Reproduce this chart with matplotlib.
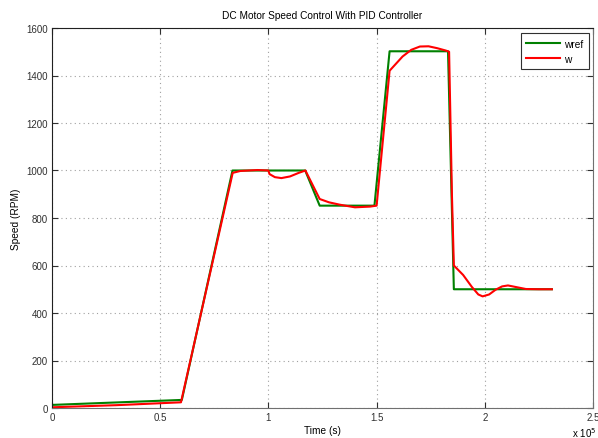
import matplotlib
matplotlib.use("Agg")
import matplotlib.pyplot as plt
from matplotlib.ticker import FuncFormatter, MultipleLocator

# time in seconds
t_ref = [0, 60000, 83400, 117000, 123700, 149000, 156000, 183000, 185700, 231000]
w_ref = [13, 34, 1000, 1000, 852, 852, 1502, 1502, 500, 500]

t_w = [0, 30000, 59600, 83500, 87000, 95000, 100000, 100500, 103000, 106000, 110000,
       114000, 117100, 123700, 128000, 133000, 140000, 147000, 150000, 156000, 158000,
       162000, 166000, 170000, 174000, 178000, 182000, 183500, 184800, 185700, 190000,
       194000, 197000, 199000, 202000, 205000, 208000, 210700, 214000, 219000, 225000,
       231000]
w_w = [3, 12, 24, 990, 998, 1002, 1000, 985, 972, 968, 975,
       990, 1000, 880, 866, 856, 845, 848, 852, 1420, 1440,
       1480, 1508, 1522, 1523, 1515, 1505, 1500, 900, 600, 560,
       510, 478, 470, 478, 498, 512, 516, 510, 501, 500,
       500]

plt.rcParams['font.family'] = ['Liberation Sans', 'DejaVu Sans']
plt.rcParams['font.size'] = 7

fig = plt.figure(figsize=(5.98, 4.39), dpi=100)
fig.patch.set_facecolor('white')
ax = fig.add_axes([52/598, 30/439, (593-52)/598, (409-29)/439])

ax.plot(t_ref, w_ref, color='#008000', lw=1.5, label='wref')
ax.plot(t_w, w_w, color='#ff0000', lw=1.5, label='w')

ax.set_xlim(0, 250000)
ax.set_ylim(0, 1600)
ax.xaxis.set_major_locator(MultipleLocator(50000))
ax.yaxis.set_major_locator(MultipleLocator(200))
ax.xaxis.set_major_formatter(FuncFormatter(lambda v, p: f"{v/1e5:g}"))
ax.grid(True, color='#a0a0a0', linestyle=(0, (1, 3)), linewidth=0.8)
ax.tick_params(direction='in', length=4, top=True, right=True, labelsize=7, colors='#303030', pad=3)
for s in ['left', 'top']:
    ax.spines[s].set_color('#202020')
for s in ['bottom', 'right']:
    ax.spines[s].set_color('#707070')

ax.set_title('DC Motor Speed Control With PID Controller', fontsize=7.3, pad=7)
ax.set_xlabel('Time (s)', fontsize=7.3, labelpad=2)
ax.set_ylabel('Speed (RPM)', fontsize=7.3, labelpad=4)
fig.text(572/598, 1 - 438.5/439, r'x 10$^{5}$', fontsize=7, ha='left', va='baseline')

leg = ax.legend(loc='upper right', bbox_to_anchor=((589-52)/541, (409-34)/380),
                fontsize=7.3, frameon=True, fancybox=False,
                edgecolor='#303030', framealpha=1, borderaxespad=0,
                handlelength=3.3, handletextpad=0.45, borderpad=0.55)
leg.get_frame().set_linewidth(0.8)

fig.savefig('out.png', dpi=100)
